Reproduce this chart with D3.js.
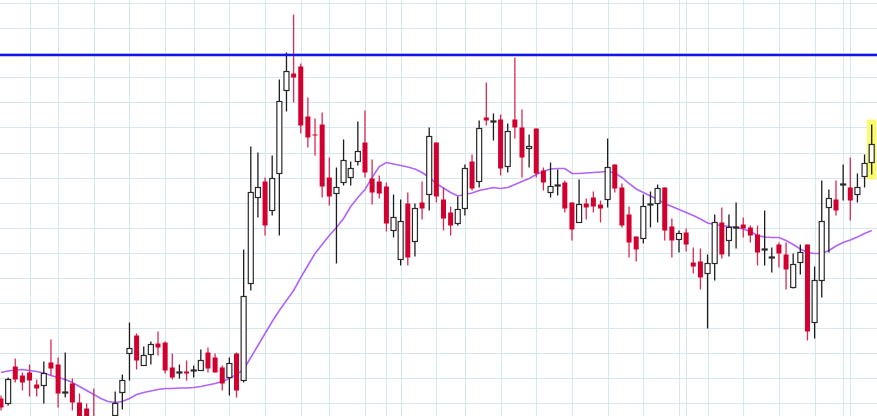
<!DOCTYPE html>
<html>
<head>
<meta charset="utf-8">
<script src="https://cdn.jsdelivr.net/npm/d3@7"></script>
<style>
  body { margin: 0; background: #fff; }
  svg { display: block; }
</style>
</head>
<body>
<div id="chart"></div>
<script>
// daily candles, oldest first
var opens = [54,49,86,77,80,68,67,90,88,59.5,
  69,50,44,32,20,10,37,60,99,117,
  87,98,109,110,85,79.5,81,81.5,82,100,
  95,85,75,99,72,169,255,271,242,279,
  362,379,386,336,318,328,275,259,270,275,
  291,310,274,271,266,222,193,249,211,250,
  258,310,253,240,229,244,291,271,335,330.5,
  333,286,333,325,304,324,282,260,266.5,270,
  250,230,249,255,248,253,288,265,238,216,
  214,247.5,249,265,226,213,220,190,191,179,
  189,230,212,224.5,228,225,218,202.5,194.5,208,
  198,165,190,208,130,172,245,253,267.5,265,
  258,276,290];
var highs = [57,75,94,80,88,73,91,113,95,100,
  74,59,49,64,30,28,61,78,130,119,
  106,111,121,111,99,88,92,87,103,105,
  99,87,95,100,203,306,300,275,297,373,
  400,438,389,355,334,340,295,285,313,291,
  331,342,293,277,270,258,253,260,249,271,
  325,310,265,246,256,288,298,332,370,339,
  338,329,395,343,318,324,285,290,283,272,
  250,273,254,261,252,314,288,269,246,216,
  258,261,268,265,234,222,224,205,204,198,
  238,245,238,250,235,227,227,242,205,210,
  210,199,208,208,186,272,263,272,288,295,
  279,298,328];
var lows = [42,47,70,62,56,56,49,77,45,55,
  42,27,24,17,7,4,32,43,72,83,
  87,88,97,79,73,74,72,75,82,80,
  80,62,57,55,70,162,235,217,237,217,
  341,350,319,305,297,255,247,189,267,267,
  287,275,248,254,221,215,187,187,196,233,
  242,250,222,217,227,237,262,265,327,312,
  277,280,314,275,285,275,262,255,257,240,
  212,230,233,240,230,245,260,225,195,191,
  209,225,230,212,195,200,201,179,163,124,
  172,194,196,204,215,210,187,187,180,185,
  163,164,178,112,114,155,200,237,252,232,
  250,265,278];
var closes = [45,73,73,70,72,64,79,84,59,60.5,
  50,32,30,22,12,24,49,72,104,92,
  97,108,105,82,75,80.5,79,82.5,92,84,
  80,69,89,62,156,260,265,227,274,351,
  381,375,327,315,317,266,256,265,292,284,
  301,280,260,259,229,235,231,195,244,244,
  316,256,234,227,243,284,264,324,332,331.5,
  284,321,325,295,306,279,270,266,267.5,244,
  223,248,245,246,244,285,264,227,210,203,
  246,248.5,264,222,212,219,208,186,175,189,
  230,198,225,225.5,224,217,200,203.5,195.5,199,
  183,188,200,121,172,231,254,242,268.5,252,
  265,289,308];
// moving average as plotted
var maValues = [80,81.5,82.5,83,82,81,79.5,77,75,73,
  70,66,62,58,54,51,50,51,54,58,
  60,61.5,63,64,64,64.5,64.5,65,66,67.5,
  69,71,74,78,83,95,107,119,131,142,
  152,162,175,187,199,208,217,225,234,246,
  255,263,275,286,290,288.5,287,285.5,283.5,280,
  275,269,264.5,260,256.5,258,259.5,262,263.5,265,
  264,265,268,271,274,278,281,283.5,284,284,
  279,279,279.5,280,280.5,281,279.5,275,269,263.5,
  260,256.5,253,249,246,243,240,237,233.5,229.5,
  228,227,226,225,223.5,221,217,215.5,215,215,
  212,208,203.5,200,199,199,202,206.5,210,212.5,
  215.5,219,222];
// candles where a new week / month starts (vertical grid)
var periodStarts = [4,8,13,18,23,27,32,37,42,46,51,54,56,61,65,70,75,80,85,90,95,96,99,104,109,114,118,119];
var priceTicks = d3.range(50, 451, 25);
var resistance = 397.5;
var highlightIndex = 122;

var width = 877, height = 416;

var svg = d3.select("#chart")
  .append("svg")
  .attr("width", width)
  .attr("height", height);

var x = d3.scaleLinear().domain([0, opens.length - 1]).range([1, 871.7]);
var y = d3.scaleLinear().domain([36.5, 452.5]).range([height, 0]);

var candles = opens.map(function(o, i) {
  return { i: i, o: o, h: highs[i], l: lows[i], c: closes[i] };
});
var isUp = function(d) { return d.c >= d.o; };

// grid
var grid = svg.append("g").attr("stroke", "#d5e7ef").attr("stroke-width", 1);
grid.selectAll("line.h")
  .data(priceTicks)
  .enter()
  .append("line")
  .attr("x1", 0).attr("x2", width)
  .attr("y1", function(d) { return Math.round(y(d)) + 0.5; })
  .attr("y2", function(d) { return Math.round(y(d)) + 0.5; });
grid.selectAll("line.v")
  .data(periodStarts)
  .enter()
  .append("line")
  .attr("y1", 0).attr("y2", height)
  .attr("x1", function(d) { return Math.round(x(d)) + 0.5; })
  .attr("x2", function(d) { return Math.round(x(d)) + 0.5; });

// highlight of last candle
var last = candles[highlightIndex];
svg.append("rect")
  .attr("x", x(last.i) - 4.8)
  .attr("width", 9.6)
  .attr("y", y(last.h) - 5)
  .attr("height", y(last.l) - y(last.h) + 10)
  .attr("fill", "#fbfb6e");

// moving average
var maLine = d3.line()
  .x(function(d, i) { return x(i); })
  .y(function(d) { return y(d); });
svg.append("path")
  .datum(maValues)
  .attr("d", maLine)
  .attr("fill", "none")
  .attr("stroke", "#b064f8")
  .attr("stroke-width", 1.6);

// wicks
svg.selectAll("line.wick")
  .data(candles)
  .enter()
  .append("line")
  .attr("class", "wick")
  .attr("x1", function(d) { return x(d.i); })
  .attr("x2", function(d) { return x(d.i); })
  .attr("y1", function(d) { return y(d.h); })
  .attr("y2", function(d) { return y(d.l); })
  .attr("stroke", function(d) { return isUp(d) ? "#1c1c1c" : "#d92a52"; })
  .attr("stroke-width", 1.3);

// bodies
var bw = 5;
svg.selectAll("rect.body")
  .data(candles)
  .enter()
  .append("rect")
  .attr("class", "body")
  .attr("x", function(d) { return x(d.i) - bw / 2; })
  .attr("width", bw)
  .attr("y", function(d) { return y(Math.max(d.o, d.c)); })
  .attr("height", function(d) { return Math.max(1, Math.abs(y(d.o) - y(d.c))); })
  .attr("fill", function(d) { return isUp(d) ? "#ffffff" : "#d2002e"; })
  .attr("stroke", function(d) { return isUp(d) ? "#2a2a2a" : "none"; })
  .attr("stroke-width", 1.2);

// resistance line
svg.append("line")
  .attr("x1", 0).attr("x2", width)
  .attr("y1", y(resistance)).attr("y2", y(resistance))
  .attr("stroke", "#1414e6")
  .attr("stroke-width", 2.6);
</script>
</body>
</html>
